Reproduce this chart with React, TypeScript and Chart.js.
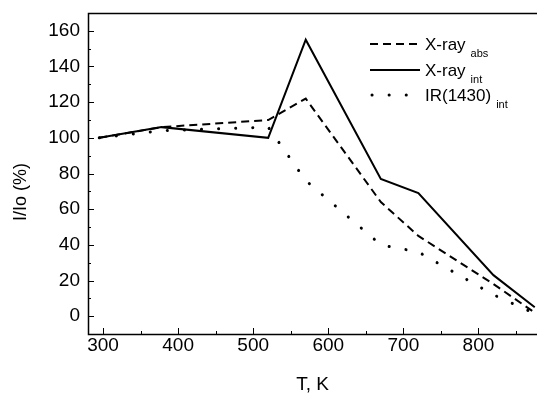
import React, { useEffect, useRef } from "react";
import { Chart, registerables } from "chart.js";

Chart.register(...registerables);

// ---- data ----
const temperatures = [295, 378, 520, 570, 670, 720, 820, 875];
const xrayAbs = [100, 106, 110, 122, 64, 45, 18, 2];
const xrayInt = [100, 106, 100, 155, 77, 69, 23, 5];
const ir1430Int = [100, 104, 106, 76, 40, 36, 12, 1.5];

const xMajorTicks = [300, 400, 500, 600, 700, 800];
const xMinorTicks = [350, 450, 550, 650, 750, 850];
const yMajorTicks = [0, 20, 40, 60, 80, 100, 120, 140, 160];
const yMinorTicks = [10, 30, 50, 70, 90, 110, 130, 150];

const seriesMain = ["X-ray", "X-ray", "IR(1430)"];
const seriesSub = ["abs", "int", "int"];

const xTitle = "T, K";
const yTitle = "I/Io (%)";

const FONT = "'Liberation Sans', Arial, Helvetica, sans-serif";

const styles = [
  { borderDash: [8, 5], borderWidth: 2, borderCapStyle: "butt" as CanvasLineCap },
  { borderDash: [] as number[], borderWidth: 2, borderCapStyle: "butt" as CanvasLineCap },
  { borderDash: [0.1, 17], borderWidth: 3, borderCapStyle: "round" as CanvasLineCap },
];

const decorPlugin = {
  id: "decor",
  afterDraw(chart: any) {
    const { ctx, chartArea: a, scales } = chart;
    const x = scales.x;
    const y = scales.y;
    ctx.save();
    ctx.strokeStyle = "#000";
    ctx.setLineDash([]);
    // frame (left, bottom, top)
    ctx.lineWidth = 1.5;
    ctx.beginPath();
    ctx.moveTo(a.right, a.top + 0.5);
    ctx.lineTo(a.left + 0.5, a.top + 0.5);
    ctx.lineTo(a.left + 0.5, a.bottom + 0.5);
    ctx.lineTo(a.right, a.bottom + 0.5);
    ctx.stroke();
    // inward ticks
    ctx.lineWidth = 1;
    const tick = (x1: number, y1: number, x2: number, y2: number) => {
      ctx.beginPath();
      ctx.moveTo(x1, y1);
      ctx.lineTo(x2, y2);
      ctx.stroke();
    };
    xMajorTicks.forEach((v) => {
      const p = Math.round(x.getPixelForValue(v)) + 0.5;
      tick(p, a.bottom, p, a.bottom - 6);
    });
    xMinorTicks.forEach((v) => {
      const p = Math.round(x.getPixelForValue(v)) + 0.5;
      tick(p, a.bottom, p, a.bottom - 3);
    });
    yMajorTicks.forEach((v) => {
      const p = Math.round(y.getPixelForValue(v)) + 0.5;
      tick(a.left, p, a.left + 6, p);
    });
    yMinorTicks.forEach((v) => {
      const p = Math.round(y.getPixelForValue(v)) + 0.5;
      tick(a.left, p, a.left + 3, p);
    });

    // axis titles
    ctx.fillStyle = "#000";
    ctx.font = `19px ${FONT}`;
    ctx.textAlign = "center";
    ctx.textBaseline = "middle";
    ctx.fillText(xTitle, (a.left + a.right) / 2, 385);
    ctx.save();
    ctx.translate(21, 192);
    ctx.rotate(-Math.PI / 2);
    ctx.font = `18px ${FONT}`;
    ctx.fillText(yTitle, 0, 0);
    ctx.restore();

    // legend
    const rows = [44, 70, 95];
    rows.forEach((ry, i) => {
      const st = styles[i];
      ctx.save();
      ctx.lineWidth = st.borderWidth;
      ctx.lineCap = st.borderCapStyle;
      ctx.setLineDash(st.borderDash);
      ctx.beginPath();
      if (i === 2) {
        ctx.moveTo(372, ry);
        ctx.lineTo(415, ry);
      } else {
        ctx.moveTo(370, ry);
        ctx.lineTo(420, ry);
      }
      ctx.stroke();
      ctx.restore();
      ctx.textAlign = "left";
      ctx.textBaseline = "middle";
      ctx.font = `17px ${FONT}`;
      const main = seriesMain[i];
      ctx.fillText(main, 425, ry + 1);
      const w = ctx.measureText(main).width;
      ctx.font = `11px ${FONT}`;
      ctx.fillText(seriesSub[i], 425 + w + 5, ry + 10);
    });
    ctx.restore();
  },
};

const zeroPad = (s: any) => {
  s.paddingTop = 0;
  s.paddingBottom = 0;
  s.paddingLeft = 0;
  s.paddingRight = 0;
};

export default function App() {
  const canvasRef = useRef<HTMLCanvasElement | null>(null);

  useEffect(() => {
    const canvas = canvasRef.current;
    if (!canvas) return;
    const mk = (vals: number[], i: number) => ({
      data: temperatures.map((t, k) => ({ x: t, y: vals[k] })),
      borderColor: "#000",
      backgroundColor: "#000",
      pointRadius: 0,
      fill: false,
      tension: 0,
      borderWidth: styles[i].borderWidth,
      borderDash: styles[i].borderDash,
      borderCapStyle: styles[i].borderCapStyle,
      borderJoinStyle: "miter" as CanvasLineJoin,
    });
    const chart = new Chart(canvas, {
      type: "line",
      data: {
        datasets: [
          { label: "X-ray abs", ...mk(xrayAbs, 0) },
          { label: "X-ray int", ...mk(xrayInt, 1) },
          { label: "IR(1430) int", ...mk(ir1430Int, 2) },
        ],
      },
      options: {
        animation: false,
        responsive: false,
        devicePixelRatio: 1,
        layout: { padding: { top: 13, left: 0, right: 0, bottom: 0 } },
        plugins: {
          legend: { display: false },
          tooltip: { enabled: false },
        },
        scales: {
          x: {
            type: "linear",
            min: 280,
            max: 878,
            grid: { display: false, drawTicks: false },
            border: { display: false },
            ticks: {
              color: "#000",
              padding: 0,
              maxRotation: 0,
              autoSkip: false,
              font: { family: FONT, size: 19 },
            },
            afterBuildTicks: (s: any) => {
              s.ticks = xMajorTicks.map((v) => ({ value: v }));
            },
            afterFit: (s: any) => {
              s.height = 60;
              zeroPad(s);
            },
          },
          y: {
            type: "linear",
            min: -10,
            max: 170,
            grid: { display: false, drawTicks: false },
            border: { display: false },
            ticks: {
              color: "#000",
              padding: 8,
              autoSkip: false,
              font: { family: FONT, size: 19 },
            },
            afterBuildTicks: (s: any) => {
              s.ticks = yMajorTicks.map((v) => ({ value: v }));
            },
            afterFit: (s: any) => {
              s.width = 88;
              zeroPad(s);
            },
          },
        },
      },
      plugins: [decorPlugin],
    });
    return () => chart.destroy();
  }, []);

  return (
    <div style={{ position: "fixed", left: 0, top: 0, width: 537, height: 394, background: "#fff" }}>
      <canvas ref={canvasRef} width={537} height={394} style={{ display: "block" }} />
    </div>
  );
}
